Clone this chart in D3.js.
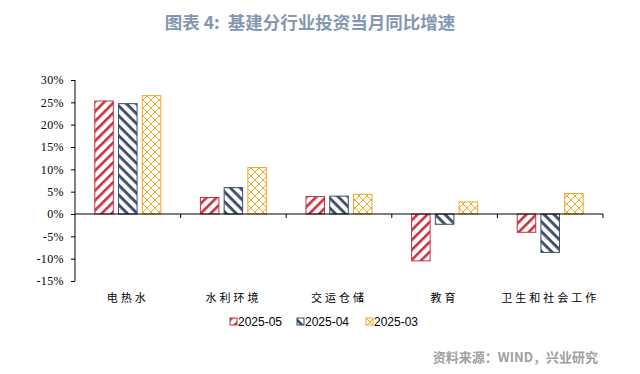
<!DOCTYPE html>
<html>
<head>
<meta charset="utf-8">
<script src="https://cdn.jsdelivr.net/npm/d3@7"></script>
<style>
  body { margin: 0; background: #fff; }
  svg { display: block; }
  .ytick text { font-family: "Times New Roman", "Liberation Serif", serif; font-size: 12px; }
</style>
</head>
<body>
<svg class="chart" width="640" height="374"></svg>
<script>
// data
var categories = ["电热水", "水利环境", "交运仓储", "教育", "卫生和社会工作"];
var seriesNames = ["2025-05", "2025-04", "2025-03"];
var may = [25.3, 3.7, 3.9, -10.5, -4.1];
var apr = [24.7, 5.9, 4.0, -2.3, -8.6];
var mar = [26.5, 10.4, 4.4, 2.7, 4.6];
var yTicks = [-15, -10, -5, 0, 5, 10, 15, 20, 25, 30];

var seriesValues = [may, apr, mar];
var colors = ["#c9303f", "#3d4b6b", "#f5a623"];
var patternIds = ["pat-may", "pat-apr", "pat-mar"];

var svg = d3.select(".chart");
var margin = {top: 80, left: 75, right: 37, bottom: 93};
var width = 640 - margin.left - margin.right;
var height = 374 - margin.top - margin.bottom;

// patterns
var defs = svg.append("defs");
var p1 = defs.append("pattern").attr("id", patternIds[0])
    .attr("patternUnits", "userSpaceOnUse").attr("width", 7).attr("height", 7)
    .attr("patternTransform", "rotate(-45)");
p1.append("rect").attr("width", 7).attr("height", 7).attr("fill", "#fff");
p1.append("rect").attr("width", 7).attr("height", 2.6).attr("fill", colors[0]);

var p2 = defs.append("pattern").attr("id", patternIds[1])
    .attr("patternUnits", "userSpaceOnUse").attr("width", 7).attr("height", 7)
    .attr("patternTransform", "rotate(45)");
p2.append("rect").attr("width", 7).attr("height", 7).attr("fill", "#fff");
p2.append("rect").attr("width", 7).attr("height", 2.8).attr("fill", colors[1]);

var p3 = defs.append("pattern").attr("id", patternIds[2])
    .attr("patternUnits", "userSpaceOnUse").attr("width", 8).attr("height", 8);
p3.append("rect").attr("width", 8).attr("height", 8).attr("fill", "#fff");
p3.append("path").attr("d", "M0,0L8,8M8,0L0,8")
    .attr("stroke", colors[2]).attr("stroke-width", 1).attr("fill", "none");

// title
svg.append("text")
    .attr("x", 310).attr("y", 29)
    .attr("text-anchor", "middle")
    .attr("fill", "#8497b0")
    .style("font", "bold 17.5px 'Noto Sans CJK SC'")
    .text("图表 4:\u00a0\u00a0基建分行业投资当月同比增速");

var g = svg.append("g")
    .attr("transform", "translate(" + margin.left + "," + margin.top + ")");

var x0 = d3.scaleBand().domain(categories).range([0, width]);
var x1 = d3.scaleBand().domain(seriesNames).range([-33, 33]).paddingInner(0.22);
var y = d3.scaleLinear().domain([-15, 30]).range([height, 0]);

// bars
seriesNames.forEach(function (name, si) {
    g.append("g")
        .selectAll("rect")
        .data(seriesValues[si])
        .enter().append("rect")
        .attr("x", function (d, i) { return x0(categories[i]) + x0.bandwidth() / 2 + x1(name); })
        .attr("y", function (d) { return y(Math.max(0, d)); })
        .attr("width", x1.bandwidth())
        .attr("height", function (d) { return Math.abs(y(d) - y(0)); })
        .attr("fill", "url(#" + patternIds[si] + ")")
        .attr("stroke", colors[si])
        .attr("stroke-width", 1);
});

// y axis
var yAxis = g.append("g")
    .attr("class", "ytick")
    .call(d3.axisLeft(y).tickValues(yTicks).tickSize(4).tickFormat(function (d) { return d + "%"; }));
yAxis.attr("font-family", null).attr("font-size", null);
yAxis.select(".domain").attr("stroke", "#000").attr("d", "M0," + y(-15) + "V" + y(30));
yAxis.selectAll("line").attr("stroke", "#000");
yAxis.selectAll("text")
    .attr("x", -11)
    .attr("fill", "#000")
    .style("letter-spacing", "0.4px");

// x axis at zero
var xAxis = g.append("g")
    .attr("transform", "translate(0," + y(0) + ")");
xAxis.append("line")
    .attr("x1", 0).attr("x2", width)
    .attr("stroke", "#000");
xAxis.selectAll(".cat-tick")
    .data(categories)
    .enter().append("line")
    .attr("class", "cat-tick")
    .attr("x1", function (d) { return x0(d) + x0.bandwidth(); })
    .attr("x2", function (d) { return x0(d) + x0.bandwidth(); })
    .attr("y1", 0).attr("y2", 4)
    .attr("stroke", "#000");

// category labels
g.selectAll(".cat-label")
    .data(categories)
    .enter().append("text")
    .attr("class", "cat-label")
    .attr("x", function (d) { return x0(d) + x0.bandwidth() / 2; })
    .attr("y", height + 21)
    .attr("text-anchor", "middle")
    .attr("fill", "#000")
    .style("font", "11px 'Noto Sans CJK SC'")
    .style("letter-spacing", "3px")
    .text(function (d) { return d; });

// legend
var legendX = [230, 297, 366];
var legend = svg.selectAll(".legend")
    .data(seriesNames)
    .enter().append("g")
    .attr("class", "legend")
    .attr("transform", function (d, i) { return "translate(" + legendX[i] + ",318)"; });
legend.append("rect")
    .attr("width", 7).attr("height", 7)
    .attr("fill", function (d, i) { return "url(#" + patternIds[i] + ")"; })
    .attr("stroke", function (d, i) { return colors[i]; });
legend.append("text")
    .attr("x", 8).attr("y", 8)
    .attr("fill", "#000")
    .style("font", "12px 'Liberation Sans'")
    .text(function (d) { return d; });

// source
svg.append("text")
    .attr("x", 598).attr("y", 362)
    .attr("text-anchor", "end")
    .attr("fill", "#a0a0a0")
    .style("font", "bold 13px 'Noto Sans CJK SC'")
    .text("资料来源：WIND，兴业研究");
</script>
</body>
</html>
